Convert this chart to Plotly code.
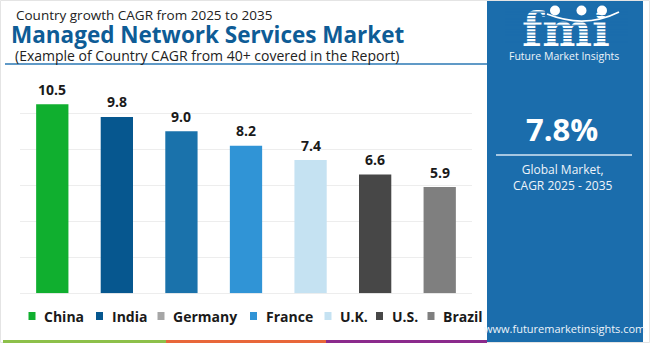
import plotly.graph_objects as go

# ---- data ----
countries = ["China", "India", "Germany", "France", "U.K.", "U.S.", "Brazil"]
cagr = [10.5, 9.8, 9.0, 8.2, 7.4, 6.6, 5.9]
global_cagr = 7.8
title_top = "Country growth CAGR from 2025 to 2035"
title_main = "Managed Network Services Market"
title_sub = "(Example of Country CAGR from 40+ covered in the Report)"

# ---- styles ----
bar_colors = ["#10af2f", "#06578f", "#1a72ab", "#3094d6", "#c5e2f2", "#474747", "#7f7f7f"]
legend_colors = ["#10af2f", "#06578f", "#a6a6a6", "#3094d6", "#c5e2f2", "#474747", "#7f7f7f"]
legend_left = [28.5, 96, 157.5, 250, 324.5, 376, 427.5]   # legend swatch x (px)
W, H = 650, 343
FONT = "Open Sans"
PANEL = "#1b6dac"

fig = go.Figure()

# bars on the main axes
fig.add_trace(go.Bar(
    x=countries, y=cagr, marker=dict(color=bar_colors, line=dict(width=0)),
    showlegend=False, hoverinfo="x+y",
))

# logo word on a pixel-space overlay axis
fig.add_trace(go.Scatter(
    x=[566], y=[34.5], mode="text", text=["fmi"], xaxis="x2", yaxis="y2",
    textfont=dict(family="DejaVu Serif", size=47, color="white", weight="bold"),
    textposition="middle center", showlegend=False, hoverinfo="skip", cliponaxis=False,
))

shapes = []
annotations = []

# right-hand panel
shapes.append(dict(type="rect", xref="x2", yref="y2", x0=487, x1=643, y0=0, y1=H,
                   fillcolor=PANEL, line=dict(width=0), layer="below"))
# logo stripes
for k in range(12):
    yy = 5.5 + k * 3.3
    shapes.append(dict(type="line", xref="x2", yref="y2", x0=505, x1=628, y0=yy, y1=yy,
                       line=dict(color=PANEL, width=1.1), layer="above"))
# logo globes and swoosh
for cx, cy in [(555, 10.5), (581.5, 10.5), (602, 10.5)]:
    shapes.append(dict(type="circle", xref="x2", yref="y2", x0=cx - 5, x1=cx + 5,
                       y0=cy - 5, y1=cy + 5, fillcolor="white", line=dict(width=0), layer="above"))
shapes.append(dict(type="path", xref="x2", yref="y2",
                   path="M 547 14 Q 585 29 619 12", line=dict(color="white", width=1.8), layer="above"))
# divider in panel
shapes.append(dict(type="line", xref="x2", yref="y2", x0=496, x1=632, y0=155, y1=155,
                   line=dict(color="#d6e6f4", width=1.5)))
# title underline
shapes.append(dict(type="line", xref="x2", yref="y2", x0=5, x1=487, y0=64, y1=64,
                   line=dict(color="#2b78b5", width=1.5)))
# bottom colour band
for x0, x1, c in [(3, 166, "#8dc04a"), (166, 326, "#e8673a"), (326, 487, "#8b2a8c")]:
    shapes.append(dict(type="rect", xref="x2", yref="y2", x0=x0, x1=x1, y0=340, y1=H,
                       fillcolor=c, line=dict(width=0)))
# outer frame
shapes.append(dict(type="rect", xref="x2", yref="y2", x0=0.5, x1=W - 0.5, y0=0.5, y1=H - 0.5,
                   line=dict(color="#e4e4e4", width=1), layer="below"))

# titles
annotations += [
    dict(text=title_top, x=14, y=14.5, font=dict(family=FONT, size=13.5, color="#222222")),
    dict(text="<b>" + title_main + "</b>", x=9, y=34.5, font=dict(family=FONT, size=22.5, color="#0e5c96")),
    dict(text=title_sub, x=13, y=55.5, font=dict(family=FONT, size=14, color="#222222")),
]
for a in annotations:
    a.update(xref="x2", yref="y2", xanchor="left", yanchor="middle", showarrow=False)

# value labels above the bars
for c, v in zip(countries, cagr):
    annotations.append(dict(text="<b>%.1f</b>" % v, x=c, y=v, xref="x", yref="y",
                            yanchor="middle", yshift=15, showarrow=False,
                            font=dict(family=FONT, size=14, color="#1a1a1a")))

# legend
for name, col, lx in zip(countries, legend_colors, legend_left):
    shapes.append(dict(type="rect", xref="x2", yref="y2", x0=lx, x1=lx + 7, y0=312, y1=320,
                       fillcolor=col, line=dict(width=0)))
    annotations.append(dict(text="<b>" + name + "</b>", x=lx + 13.5, y=316, xref="x2", yref="y2",
                            xanchor="left", yanchor="middle", showarrow=False,
                            font=dict(family=FONT, size=14, color="#1a1a1a")))

# panel texts
panel_text = [
    ("Future Market Insights", 563.5, 56, 10.5, False),
    ("%.1f%%" % global_cagr, 562, 129, 31, True),
    ("Global Market,<br>CAGR 2025 - 2035", 563, 177, 12, False),
    ("www.futuremarketinsights.com", 564.5, 328.5, 11, False),
]
for t, x, y, s, b in panel_text:
    annotations.append(dict(text=("<b>%s</b>" % t) if b else t, x=x, y=y, xref="x2", yref="y2",
                            xanchor="center", yanchor="middle", showarrow=False,
                            font=dict(family=FONT, size=s, color="white" if b else "#eef4fa")))

fig.update_layout(
    width=W, height=H, margin=dict(l=0, r=0, t=0, b=0),
    paper_bgcolor="white", plot_bgcolor="rgba(0,0,0,0)",
    bargap=0.5, showlegend=False,
    xaxis=dict(domain=[20 / W, 472 / W], range=[-0.5, 6.5], showticklabels=False,
               showgrid=False, zeroline=False, fixedrange=True),
    yaxis=dict(domain=[1 - 293.3 / H, 1 - 77.3 / H], range=[0, 12], dtick=2,
               showticklabels=False, showgrid=True, gridcolor="#ededed", gridwidth=1,
               zeroline=True, zerolinecolor="#ededed", zerolinewidth=1, fixedrange=True),
    xaxis2=dict(domain=[0, 1], range=[0, W], visible=False, fixedrange=True),
    yaxis2=dict(domain=[0, 1], range=[H, 0], visible=False, fixedrange=True),
    shapes=shapes, annotations=annotations,
)

fig.write_html("out.html", config={"displayModeBar": False})
